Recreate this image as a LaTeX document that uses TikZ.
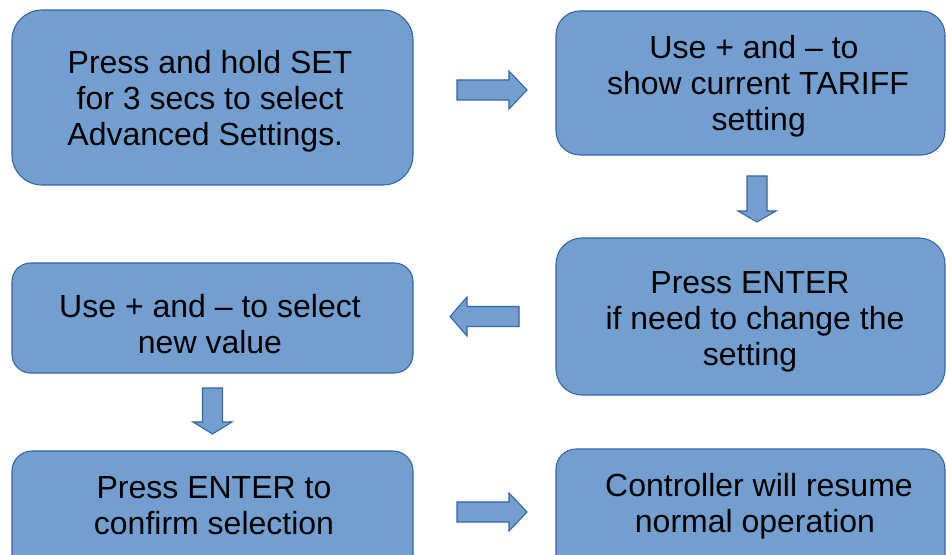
\documentclass[tikz,border=0pt]{standalone}
\usepackage{fontspec}
\setmainfont{Liberation Sans}
\definecolor{boxfill}{HTML}{729FCF}
\definecolor{boxline}{HTML}{3465A4}
\begin{document}
\begin{tikzpicture}[x=0.75pt,y=-0.75pt,
  box/.style={draw=boxline, fill=boxfill, line width=0.8pt, inner sep=0pt},
  txt/.style={font=\fontsize{24}{27}\selectfont, align=center, text=black, inner sep=0pt},
  blockarrow/.style={draw=boxline, fill=boxfill, line width=0.8pt, line join=miter}]
\useasboundingbox (0,0) rectangle (946,555);
\clip (0,0) rectangle (946,555);
% boxes
\node[box, minimum width=300.75pt, minimum height=131.25pt, rounded corners=22.5pt] (b1) at (212.5,97.5) {};
\node[box, minimum width=291.75pt, minimum height=108pt, rounded corners=18pt] (b2) at (750.5,83) {};
\node[box, minimum width=291.75pt, minimum height=117.75pt, rounded corners=19.5pt] (b3) at (750.5,316.5) {};
\node[box, minimum width=300.75pt, minimum height=82.5pt, rounded corners=14pt] (b4) at (212.5,318) {};
\node[box, minimum width=300.75pt, minimum height=93pt, rounded corners=15pt] (b5) at (212.5,513) {};
\node[box, minimum width=291.75pt, minimum height=94.5pt, rounded corners=15pt] (b6) at (750.5,512) {};
% texts
\node[txt] (t1) at (210,102) {\strut Press and hold SET\\\strut for 3 secs to select\\\strut Advanced Settings.\hspace*{7pt}};
\node[txt] (t2) at (754,87) {\strut Use + and – to\\\hspace*{6pt}\strut show current TARIFF\\\hspace*{7pt}\strut setting};
\node[txt] (t3) at (750,322) {\strut Press ENTER\\\hspace*{7.5pt}\strut if need to change the\\\strut setting};
\node[txt] (t4) at (210,328) {\strut Use + and – to select\\\strut new value};
\node[txt] (t5) at (214,509) {\strut Press ENTER to\\\strut confirm selection};
\node[txt] (t6) at (759,507) {\strut Controller will resume\\\strut normal operation\hspace*{6pt}};
% block arrows
\draw[blockarrow] (457,80) -- (509,80) -- (509,71) -- (527,90) -- (509,109) -- (509,100) -- (457,100) -- cycle;
\draw[blockarrow] (747,176) -- (747,211) -- (738,211) -- (757,222) -- (776,211) -- (767,211) -- (767,176) -- cycle;
\draw[blockarrow] (519,306.5) -- (467,306.5) -- (467,297) -- (450,316.5) -- (467,336) -- (467,326.5) -- (519,326.5) -- cycle;
\draw[blockarrow] (202.5,388) -- (202.5,422) -- (193,422) -- (212.5,434) -- (232,422) -- (222.5,422) -- (222.5,388) -- cycle;
\draw[blockarrow] (457,502) -- (509,502) -- (509,493) -- (527,512) -- (509,531) -- (509,522) -- (457,522) -- cycle;
\end{tikzpicture}
\end{document}
